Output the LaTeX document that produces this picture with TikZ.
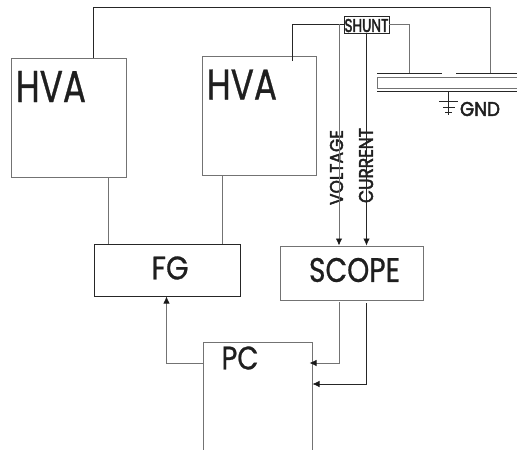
\documentclass[tikz,border=0pt]{standalone}
\usepackage{fontspec}
\setmainfont{Poppins}
\newfontfamily\fa[RawFeature={embolden=0.8}]{Poppins}
\newfontfamily\fb[RawFeature={embolden=2.5}]{Poppins}
\usetikzlibrary{arrows.meta}
\tikzset{
 x=1pt,y=-1pt,
 wire/.style={draw=black!55,line width=0.8pt},
 dark/.style={draw=black!85,line width=0.7pt},
 lab/.style={text=black!88,inner sep=0,anchor=center},
 arr/.style={-{Latex[length=7pt,width=6.5pt,black!90]}},
}
\begin{document}
\begin{tikzpicture}
\useasboundingbox (0,0) rectangle (517,450);
\coordinate (h1nw) at (11,58); \coordinate (h1se) at (126,177);
\draw[wire] (h1nw) rectangle (h1se);
\coordinate (h2nw) at (202,56); \coordinate (h2se) at (316,175);
\draw[wire] (h2nw) rectangle (h2se);
\coordinate (fgnw) at (94,244); \coordinate (fgse) at (240,296);
\draw[dark] (fgnw) rectangle (fgse);
\coordinate (scnw) at (280,246); \coordinate (scse) at (423,300);
\draw[wire] (scnw) rectangle (scse);
\coordinate (shnw) at (344,16); \coordinate (shse) at (389,33);
\draw[dark] (shnw) rectangle (shse);
% PC open box
\coordinate (pca) at (203,450); \coordinate (pcb) at (203,342); \coordinate (pcc) at (312,342); \coordinate (pcd) at (312,450);
\draw[wire] (pca) -- (pcb) -- (pcc) -- (pcd);
% labels
\node[lab] (hva1) at (51,86.5) {\resizebox{70pt}{31pt}{\fa HVA}};
\node[lab] (hva2) at (242,84.5) {\resizebox{70pt}{30pt}{\fa HVA}};
\node[lab] (fg) at (170,268) {\resizebox{37pt}{23pt}{\fa FG}};
\node[lab] (scope) at (354.5,270) {\resizebox{91pt}{24pt}{\fa SCOPE}};
\node[lab] (pc) at (240,358) {\resizebox{37pt}{23pt}{\fa PC}};
\node[lab] (shunt) at (366.5,25.5) {\resizebox{44pt}{13pt}{\fb SHUNT}};
\node[lab] (gnd) at (480,109) {\resizebox{40pt}{14pt}{\fb GND}};
\node[lab,rotate=90] (volt) at (336.5,167.5) {\resizebox{75pt}{13pt}{\fb VOLTAGE}};
\node[lab,rotate=90] (curr) at (366,165.5) {\resizebox{75pt}{14pt}{\fb CURRENT}};
% HV wires
\coordinate (t1) at (93,7); \coordinate (t2) at (490,7); \coordinate (pl) at (490,73);
\coordinate (a1) at (93,58); \coordinate (a2) at (292,61); \coordinate (a3) at (292,24);
\coordinate (b1) at (409,24); \coordinate (b2) at (409,73);
\draw[dark] (a1) -- (t1) -- (t2);
\draw[wire] (t2) -- (pl);
\draw[dark] (a2) -- (a3) -- (344,24);
\draw[wire] (389,24) -- (b1) -- (b2);
\draw[dark] (377,73) -- (442,73);
\draw[dark] (456,73) -- (517,73);
\draw[wire] (517,77) -- (377,77) -- (377,88) -- (517,88);
\draw[dark] (377,91) -- (517,91);
\draw[dark] (448,91) -- (448,115);
\draw[dark] (439,101) -- (458,101) (443,107) -- (455,107) (445,112) -- (452,112);
% links
\draw[wire] (108,177) -- (108,244);
\draw[wire] (222,175) -- (222,244);
\draw[wire,arr] (339,24) -- (339,245.5);
\draw[dark,arr] (366.5,33) -- (366.5,245.5);
\draw[wire,arr] (203,363) -- (166.5,363) -- (166.5,296.5);
\draw[wire,arr] (339,302) -- (339,363) -- (309.5,363);
\draw[dark,arr] (366.5,303) -- (366.5,384) -- (312.5,384);
\end{tikzpicture}
\end{document}
